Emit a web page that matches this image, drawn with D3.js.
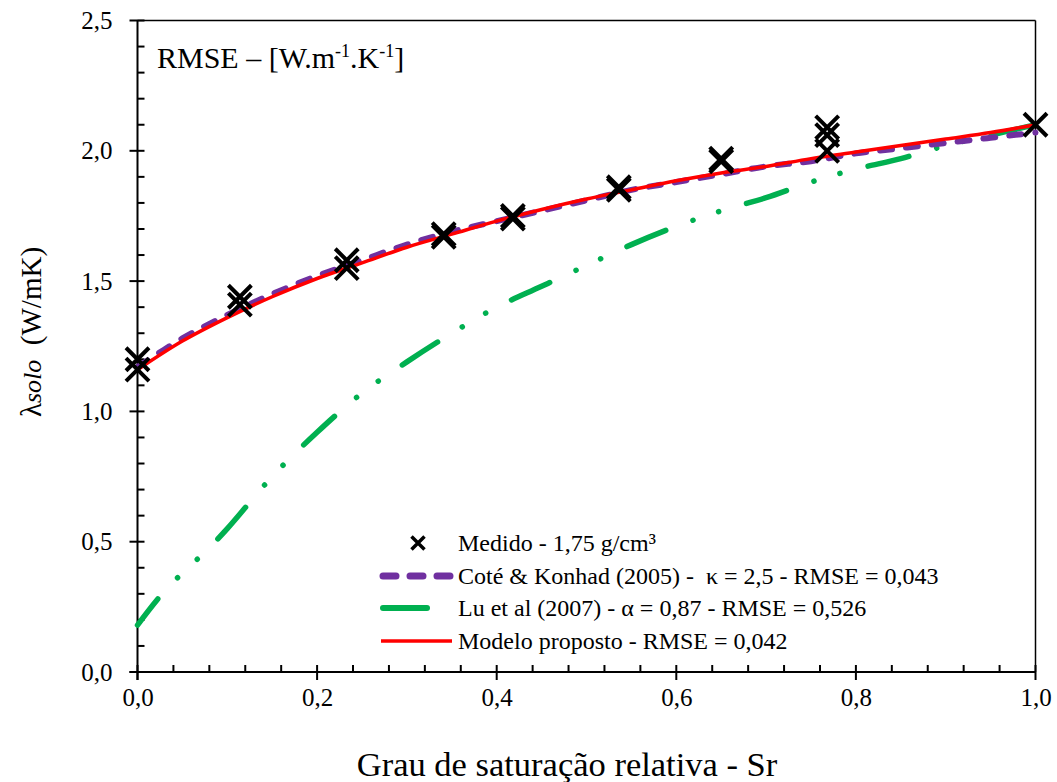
<!DOCTYPE html>
<html><head><meta charset="utf-8">
<script src="https://cdn.jsdelivr.net/npm/d3@7"></script>
<style>
body{margin:0;background:#fff;}
svg{display:block;}
svg text{font-family:"Liberation Serif","Times New Roman",serif;}
</style></head>
<body><svg id="chart" width="1057" height="782"></svg>
<script>
// ---- data ----
const measuredSr = [0, 0, 0.114, 0.114, 0.233, 0.233, 0.341, 0.341, 0.418, 0.418, 0.536, 0.536, 0.650, 0.650, 0.768, 0.768, 0.768, 1.0];
const measuredK  = [1.20, 1.16, 1.44, 1.41, 1.58, 1.55, 1.68, 1.67, 1.75, 1.74, 1.86, 1.85, 1.97, 1.96, 2.09, 2.06, 2.00, 2.10];

const curveSr   = [0, 0.05, 0.1, 0.15, 0.2, 0.25, 0.3, 0.35, 0.4, 0.45, 0.5, 0.55, 0.6, 0.65, 0.7, 0.75, 0.8, 0.85, 0.9, 0.95, 1.0];
const coteK     = [1.17, 1.28, 1.37, 1.45, 1.52, 1.58, 1.64, 1.69, 1.73, 1.77, 1.81, 1.85, 1.88, 1.91, 1.94, 1.96, 1.99, 2.01, 2.03, 2.05, 2.07];
const modeloK   = [1.16, 1.27, 1.36, 1.44, 1.51, 1.57, 1.63, 1.68, 1.73, 1.775, 1.815, 1.85, 1.885, 1.915, 1.94, 1.97, 1.995, 2.02, 2.045, 2.07, 2.10];

const luSr = [0, 0.025, 0.05, 0.075, 0.1, 0.15, 0.2, 0.25, 0.3, 0.35, 0.4, 0.45, 0.5, 0.55, 0.6, 0.65, 0.7, 0.75, 0.8, 0.85, 0.9, 0.95, 1.0];
const luK  = [0.18, 0.29, 0.38, 0.46, 0.55, 0.75, 0.92, 1.07, 1.19, 1.30, 1.40, 1.48, 1.56, 1.64, 1.71, 1.77, 1.82, 1.88, 1.93, 1.97, 2.02, 2.06, 2.10];

const xTicks = [0, 0.2, 0.4, 0.6, 0.8, 1.0];
const yTicks = [0, 0.5, 1.0, 1.5, 2.0, 2.5];
const legendLabels = [
  "Medido - 1,75 g/cm³",
  "Coté & Konhad (2005) -  κ = 2,5 - RMSE = 0,043",
  "Lu et al (2007) - α = 0,87 - RMSE = 0,526",
  "Modelo proposto - RMSE = 0,042"
];

// ---- layout ----
const FONT = "Liberation Serif, Times New Roman, serif";
const svg = d3.select("#chart");
const L = 137.5, R = 1035.5, T = 20.5, B = 672;
const x = d3.scaleLinear().domain([0, 1]).range([L, R]);
const y = d3.scaleLinear().domain([0, 2.5]).range([B, T]);
const fmt = d => d3.format(".1f")(d).replace(".", ",");

const PURPLE = "#7030a0", GREEN = "#00b050", RED = "#ff0000";

// frame
svg.append("line").attr("x1", L).attr("x2", R).attr("y1", T).attr("y2", T).attr("stroke", "#000").attr("stroke-width", 1.5);
svg.append("line").attr("x1", R).attr("x2", R).attr("y1", T).attr("y2", B).attr("stroke", "#000").attr("stroke-width", 1.5);

// x axis
const xAxis = d3.axisBottom(x).tickValues(xTicks).tickSize(0).tickFormat(fmt);
const gx = svg.append("g").attr("transform", `translate(0,${B})`).call(xAxis).attr("font-family", FONT);
gx.select(".domain").remove();
gx.selectAll("text").attr("font-size", 25).attr("font-family", FONT).attr("fill", "#000").attr("dy", "1.25em");
const xMinor = d3.range(0, 1.0001, 0.04);
svg.append("g").selectAll("line").data(xMinor).join("line")
  .attr("x1", d => x(d)).attr("x2", d => x(d))
  .attr("y1", B - 7).attr("y2", d => (Math.abs(d / 0.2 - Math.round(d / 0.2)) < 1e-6) ? B + 8 : B)
  .attr("stroke", "#000").attr("stroke-width", 2);
svg.append("line").attr("x1", L - 8).attr("x2", R).attr("y1", B).attr("y2", B).attr("stroke", "#000").attr("stroke-width", 2);

// y axis
const yAxis = d3.axisLeft(y).tickValues(yTicks).tickSize(0).tickFormat(fmt);
const gy = svg.append("g").attr("transform", `translate(${L},0)`).call(yAxis).attr("font-family", FONT);
gy.select(".domain").remove();
gy.selectAll("text").attr("font-size", 25).attr("font-family", FONT).attr("fill", "#000").attr("x", -25);
const yMinor = d3.range(0, 2.5001, 0.1);
svg.append("g").selectAll("line").data(yMinor).join("line")
  .attr("y1", d => y(d)).attr("y2", d => y(d))
  .attr("x1", d => (Math.abs(d / 0.5 - Math.round(d / 0.5)) < 1e-6) ? L - 8 : L).attr("x2", L + 7)
  .attr("stroke", "#000").attr("stroke-width", 2);
svg.append("line").attr("x1", L).attr("x2", L).attr("y1", T).attr("y2", B + 8).attr("stroke", "#000").attr("stroke-width", 2);

// ---- curves ----
const lineGen = (xs, ys) => d3.line().curve(d3.curveCatmullRom.alpha(0.5))
  .x((d, i) => x(xs[i])).y((d, i) => y(ys[i]))(ys);

const plot = svg.append("g");
plot.append("path").attr("d", lineGen(luSr, luK)).attr("fill", "none")
  .attr("stroke", GREEN).attr("stroke-width", 5.5).attr("stroke-linecap", "round")
  .attr("stroke-dasharray", "42,29,0.1,27,0.1,29").attr("stroke-dashoffset", 9);
plot.append("path").attr("d", lineGen(curveSr, coteK)).attr("fill", "none")
  .attr("stroke", PURPLE).attr("stroke-width", 6).attr("stroke-linecap", "round")
  .attr("stroke-dasharray", "12,14");
plot.append("path").attr("d", lineGen(curveSr, modeloK)).attr("fill", "none")
  .attr("stroke", RED).attr("stroke-width", 3.5);

// markers
const cross = (cx, cy, s) => `M${cx - s},${cy - s}L${cx + s},${cy + s}M${cx - s},${cy + s}L${cx + s},${cy - s}`;
plot.append("g").selectAll("path").data(measuredK).join("path")
  .attr("d", (d, i) => cross(x(measuredSr[i]), y(d), 11.5))
  .attr("stroke", "#000").attr("stroke-width", 4).attr("fill", "none");

// ---- RMSE note ----
const note = svg.append("text").attr("x", 157).attr("y", 68).attr("font-size", 30).attr("fill", "#000").attr("font-family", FONT);
note.append("tspan").text("RMSE – [W.m");
note.append("tspan").attr("font-size", 18).attr("dy", -11).text("-1");
note.append("tspan").attr("dy", 11).text(".K");
note.append("tspan").attr("font-size", 18).attr("dy", -11).text("-1");
note.append("tspan").attr("dy", 11).text("]");

// ---- legend ----
const legY = [543, 576, 608, 641];
const lg = svg.append("g");
lg.append("path").attr("d", cross(418, legY[0], 6.5)).attr("stroke", "#000").attr("stroke-width", 3.5);
lg.append("line").attr("x1", 383).attr("x2", 450).attr("y1", legY[1]).attr("y2", legY[1])
  .attr("stroke", PURPLE).attr("stroke-width", 7).attr("stroke-linecap", "round").attr("stroke-dasharray", "13,14");
lg.append("line").attr("x1", 383).attr("x2", 427).attr("y1", legY[2]).attr("y2", legY[2])
  .attr("stroke", GREEN).attr("stroke-width", 6).attr("stroke-linecap", "round");
lg.append("line").attr("x1", 381).attr("x2", 452).attr("y1", legY[3]).attr("y2", legY[3])
  .attr("stroke", RED).attr("stroke-width", 3.5);
lg.selectAll("text").data(legendLabels).join("text")
  .attr("x", 458).attr("y", (d, i) => legY[i]).attr("dy", "0.35em")
  .attr("font-size", 24).attr("fill", "#000").attr("font-family", FONT)
  .style("white-space", "pre").text(d => d);

// ---- axis titles ----
svg.append("text").attr("x", 567).attr("y", 776).attr("text-anchor", "middle")
  .attr("font-size", 34.5).attr("fill", "#000").attr("font-family", FONT).text("Grau de saturação relativa - Sr");

const yl = svg.append("text").attr("transform", "translate(41,332) rotate(-90)")
  .attr("text-anchor", "middle").attr("font-size", 29).attr("fill", "#000").attr("font-family", FONT).style("white-space", "pre");
yl.append("tspan").text("λ");
yl.append("tspan").attr("font-style", "italic").attr("font-size", 26).text("solo");
yl.append("tspan").text("  (W/mK)");
</script></body></html>
